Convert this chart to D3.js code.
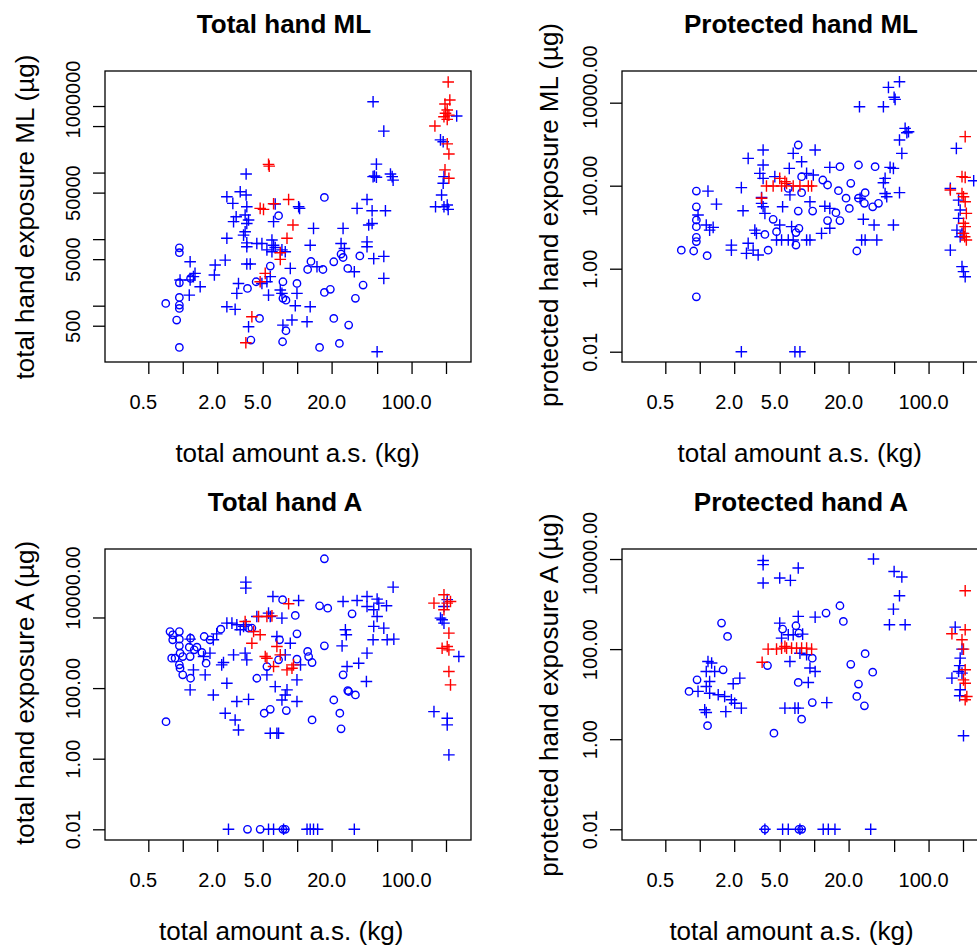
<!DOCTYPE html>
<html>
<head>
<meta charset="utf-8">
<script src="https://cdn.jsdelivr.net/npm/d3@7"></script>
<style>
  body { margin: 0; background: #fff; }
  svg { display: block; }
  text { font-family: "Liberation Sans", Arial, Helvetica, sans-serif; fill: #000; }
</style>
</head>
<body>
<svg id="chart" width="977" height="945"></svg>
<script>
// ---- axis ticks and labels ----
const xTickValues = [0.5, 1, 2, 5, 10, 20, 50, 100, 200];
const xTickLabels = {0.5: "0.5", 2: "2.0", 5: "5.0", 20: "20.0", 100: "100.0"};
const yTicksML = [500, 1000, 5000, 10000, 50000, 100000, 500000, 1000000];
const yLabelsML = {500: "500", 5000: "5000", 50000: "50000", 1000000: "1000000"};
const yTicksLog = [0.01, 1, 100, 10000];
const yLabelsLog = {0.01: "0.01", 1: "1.00", 100: "100.00", 10000: "10000.00"};

// ---- Total hand ML: [amount a.s. (kg), exposure (µg)] ----
const totalMLCircle = [[17.3,42400],[6.88,22500],[0.934,7400],[0.934,6250],[5.82,3940],[13.2,4630],[12.35,3500],[16.8,3500],[20.9,4570],[24.2,5970],[25.2,5300],[35.3,5600],[27.7,3630],[1.17,2570],[0.934,2210],[4.38,2290],[7.51,2290],[9.96,2160],[3.68,1820],[17.3,1580],[19.5,1760],[37.7,2040],[7.51,1290],[7.98,1210],[32.3,1290],[0.71,1080],[0.934,1330],[0.934,1020],[0.934,910],[0.885,608],[4.69,644],[20.9,644],[28.2,511],[7.98,420],[3.94,304],[7.46,287],[23.4,271],[15.7,236],[0.934,236]];
const totalMLPlus = [[46.1,1160000],[248,710000],[57.2,420000],[179,310000],[189,290000],[49.3,134000],[47.4,89000],[49.3,85000],[46.1,87000],[65.4,95000],[67.7,87000],[69.0,77000],[192,87000],[189,69000],[183,46000],[3.58,95000],[2.43,43400],[3.18,51500],[3.58,46000],[2.74,34400],[3.63,30700],[3.51,23000],[6.43,33700],[10.3,30700],[10.5,29000],[33.4,29000],[40.8,39500],[59.1,26700],[45.2,26700],[162,30700],[192,30700],[205,32500],[209,28000],[2.93,21700],[2.78,18300],[3.76,19400],[6.22,18300],[3.63,17200],[13.9,14500],[25.2,14500],[45.2,17200],[42.2,16300],[3.51,12900],[3.40,11500],[2.43,10300],[6.02,9700],[4.92,8600],[4.44,8600],[6.22,8100],[6.43,7500],[3.63,8800],[3.63,7700],[40.8,9100],[13.0,8100],[24.2,8600],[25.9,7250],[7.36,6900],[7.87,6460],[5.44,6900],[6.02,6460],[40.8,7700],[1.16,4570],[1.92,4080],[2.35,4840],[1.89,2890],[3.63,4220],[3.89,4220],[8.71,3630],[14.9,3850],[46.7,5100],[57.2,5500],[31.6,3240],[57.2,2570],[0.947,2430],[1.16,2430],[1.28,3060],[1.24,2730],[1.42,1930],[1.14,1440],[5.82,2730],[5.44,2290],[4.92,2160],[3.07,2160],[2.97,1530],[5.62,1440],[7.12,1720],[7.36,1530],[9.96,1530],[2.43,964],[2.87,880],[9.63,1000],[13.0,964],[3.76,482],[7.51,511],[9.01,608],[12.2,574],[50.0,203]];
const totalMLRed = [[209,2300000],[216,1230000],[196,1070000],[205,870000],[198,780000],[212,730000],[192,690000],[205,630000],[160,500000],[205,270000],[212,190000],[196,110000],[212,82000],[5.62,133000],[5.70,125000],[5.08,28000],[4.75,29000],[6.22,34000],[8.42,39500],[9.19,16300],[8.15,10300],[7.12,6250],[7.12,4960],[5.26,3060],[4.75,2290],[4.02,682],[3.56,277]];

// ---- Protected hand ML ----
const protMLCircle = [[7.26,955],[16.8,287],[24.4,315],[34.1,287],[7.77,165],[11.9,137],[13.1,104],[20.9,114],[5.94,86],[7.77,68],[16.3,76],[27.9,68],[19.0,50],[24.4,50],[27.5,37.5],[32.5,31],[36.5,37.5],[20.3,28.4],[7.26,24.5],[9.7,24.5],[15.5,22.4],[13.1,14.4],[16.8,14.4],[0.934,74],[0.934,31],[0.934,14.9],[0.934,10.3],[4.38,15.5],[4.69,7.8],[3.71,6.7],[6.93,7.4],[7.36,9.4],[6.93,3.7],[3.96,2.8],[0.934,5.7],[0.934,4.5],[0.69,2.8],[0.885,2.67],[1.16,2.06],[23.6,2.67],[0.934,0.21]];
const protMLPlus = [[55.7,32000],[44.6,23400],[50,13500],[51,12000],[40.3,8000],[24.9,8000],[62.4,2410],[66.8,2000],[64.6,1890],[55.7,1260],[58.4,601],[175,794],[3.58,724],[2.65,456],[6.56,601],[10.2,724],[7.77,379],[3.58,315],[6.06,262],[13.7,277],[3.35,198],[3.58,150],[4.53,165],[8.59,198],[9.83,181],[46.1,277],[49.3,262],[41.7,150],[40.3,118],[248,132],[1.18,74],[1.40,36],[2.31,90],[2.39,25],[3.47,52],[3.47,37.5],[3.58,31],[3.71,21.5],[5.3,31],[6.14,60],[9.19,41],[12.4,32],[13.7,28.4],[25.2,50],[41.7,65],[43.1,54],[55.7,68],[26.9,15.5],[33.4,11.3],[49.3,11.3],[0.966,19.6],[1.14,11.3],[1.22,8.5],[1.31,9.9],[3.03,8.5],[3.13,7.1],[2.65,4.1],[2.56,2.34],[2.93,2.8],[3.24,2.13],[1.89,3.7],[1.89,2.8],[5.0,11.3],[6.35,10.3],[4.69,4.9],[5.19,4.9],[5.94,4.9],[6.56,4.9],[8.59,4.9],[9.19,4.9],[11.6,7.1],[13.7,9.4],[26.0,4.9],[27.9,4.9],[35.3,4.9],[155,86],[155,2.8],[196,1.12],[202,0.85],[209,0.64],[2.31,0.01],[6.79,0.01],[7.51,0.01],[183,45],[189,26],[183,16.3],[177,8.5],[189,5.9],[196,7.1]];
const protMLRed = [[209,1520],[5.0,150],[5.55,125],[3.83,98],[4.38,98],[5.19,98],[5.74,114],[6.56,98],[7.51,98],[8.89,98],[9.5,98],[196,165],[209,159],[3.47,50],[155,79],[196,65],[202,54],[209,41],[214,21.5],[202,12.4],[209,10.3],[202,7.1],[214,4.9],[207,5.9]];

// ---- Total hand A ----
const totalACircle = [[17.3,460000],[7.46,32000],[15.7,21400],[18.5,18400],[30.2,12700],[9.63,11400],[3.76,5000],[4.02,5000],[2.15,4670],[0.774,4000],[0.934,4000],[0.817,3230],[0.817,2330],[0.934,2430],[1.17,2600],[1.54,2890],[1.73,2330],[0.934,1570],[1.14,1440],[1.33,1440],[1.26,1210],[1.47,1020],[0.947,975],[1.0,783],[1.16,783],[0.80,703],[0.857,703],[1.6,507],[0.934,455],[0.947,366],[1.0,237],[1.17,190],[9.96,3440],[7.01,2330],[17.3,1570],[12.35,1090],[12.6,783],[13.5,530],[9.96,658],[6.88,630],[5.44,408],[4.44,190],[25.2,237],[27.7,85],[28.2,80],[32.3,64],[20.9,46],[23.6,19.4],[24.2,7.0],[13.5,12.5],[8.04,23.1],[5.82,25.1],[5.15,19.4],[0.714,11.2],[3.68,0.01],[4.75,0.01],[7.51,0.01],[7.87,0.01]];
const totalAPlus = [[3.56,100000],[3.56,68000],[69.0,72400],[6.14,39400],[10.3,30300],[25.2,28400],[33.4,30300],[40.8,39400],[50,33000],[51.7,25500],[40.8,20500],[60.4,21400],[46.7,16500],[4.44,10700],[5.82,10700],[7.36,9600],[5.62,13300],[2.43,6900],[2.69,6900],[2.97,6200],[3.40,5600],[3.58,6200],[3.18,4470],[50,10700],[205,32000],[192,20500],[179,9600],[185,8600],[192,6900],[259,783],[157,21.6],[205,14.0],[205,9.1],[212,1.28],[1.16,2430],[1.98,3440],[1.85,2330],[1.73,975],[2.78,873],[3.51,975],[3.63,630],[2.27,530],[2.19,455],[1.52,783],[1.57,237],[1.24,328],[2.43,137],[1.16,89],[1.85,64],[2.97,41.5],[3.76,48],[2.35,19.4],[2.87,12.5],[3.07,6.5],[5.44,237],[6.43,110],[8.15,89],[7.87,64],[7.36,46],[9.96,41.5],[8.71,1870],[6.65,2890],[10.7,455],[7.87,873],[9.96,171],[24.7,1570],[26.9,3230],[26.4,4470],[46.7,5600],[57.2,5000],[61.2,2330],[70,2430],[46.1,2330],[40.8,975],[34.5,507],[27.3,408],[40.3,153],[5.82,5.25],[6.65,5.25],[6.88,5.25],[2.51,0.01],[5.62,0.01],[6.22,0.01],[7.61,0.01],[12.2,0.01],[13.0,0.01],[13.9,0.01],[15.1,0.01],[31.6,0.01]];
const totalARed = [[8.42,24400],[3.51,7700],[4.6,10700],[5.44,10700],[6.02,11100],[4.16,4000],[4.75,3230],[4.02,1870],[6.65,1510],[5.26,783],[5.44,703],[7.12,873],[6.22,408],[9.3,455],[9.01,366],[8.15,328],[192,44000],[219,28400],[157,25500],[205,25500],[192,16500],[212,3600],[205,1510],[185,1350],[212,1210],[212,294],[219,123]];

// ---- Protected hand A ----
const protACircle = [[16.8,918],[12.7,631],[18.0,412],[1.55,378],[1.75,191],[5.3,278],[6.93,330],[7.36,227],[9.63,63],[3.91,43],[1.6,34.7],[0.947,20.8],[0.806,11.5],[1.17,2.0],[4.45,1.36],[7.26,18.2],[9.63,6.5],[7.77,2.78],[20.9,46],[27.9,79],[32.5,30.8],[24.4,16.7],[23.6,8.9],[27.5,5.5],[3.71,0.01],[7.36,0.01],[7.77,0.01]];
const protAPlus = [[3.58,9300],[3.58,7500],[7.26,6300],[3.58,2930],[5.0,3780],[6.2,3360],[33.0,10000],[50,5300],[58.4,4000],[55.7,1530],[49.3,774],[45.5,347],[62.4,347],[5.0,378],[7.26,532],[10.2,514],[5.19,175],[5.94,208],[6.56,208],[7.93,215],[7.51,81],[6.14,53],[8.59,75],[9.19,38],[10.2,31.9],[8.89,18.2],[12.9,6.5],[5.55,4.9],[6.79,4.9],[7.26,4.9],[1.18,53],[1.27,49],[1.14,31.9],[1.35,31.9],[1.22,19.1],[1.14,14.8],[1.22,10.5],[0.966,11.5],[1.105,4.5],[1.14,3.9],[1.45,9.7],[1.65,8.9],[1.69,4.1],[1.89,7.5],[2.02,6.3],[2.24,22.7],[1.96,17.0],[2.31,4.9],[171,308],[196,100],[189,63],[187,43],[183,31.9],[160,22.7],[196,29.3],[189,12.5],[187,9.2],[202,1.19],[3.71,0.01],[5.3,0.01],[5.94,0.01],[7.51,0.01],[12.0,0.01],[13.3,0.01],[15.2,0.01],[31.2,0.01]];
const protARed = [[209,1980],[3.51,51],[3.96,100],[4.69,100],[5.19,105],[5.74,105],[6.35,105],[7.02,105],[7.77,105],[8.59,105],[9.5,100],[5.55,115],[160,219],[209,269],[196,161],[202,100],[209,34.7],[202,20.8],[209,17.5],[216,8.9],[209,7.5]];

// ---- layout ----
const BLUE = "#0000ff", RED = "#ff0000";
const xDomain = [0.2091, 330.8];
const panels = [
  { left: 105, top: 71, yDomain: [142.5, 3.36e6], yTicks: yTicksML, yLabels: yLabelsML, topLabelShift: -7,
    title: "Total hand ML", titleX: 284, xTitleX: 297.5,
    yTitle: "total hand exposure ML (\u00b5g)", yTitleX: 34, yTitleY: 217,
    circles: totalMLCircle, pluses: totalMLPlus, reds: totalMLRed },
  { left: 622, top: 71, yDomain: [0.00565, 5.8e4], yTicks: yTicksLog, yLabels: yLabelsLog, topLabelShift: -16,
    title: "Protected hand ML", titleX: 801, xTitleX: 799.7,
    yTitle: "protected hand exposure ML (\u00b5g)", yTitleX: 558, yTitleY: 215,
    circles: protMLCircle, pluses: protMLPlus, reds: protMLRed },
  { left: 105, top: 549, yDomain: [0.00498, 8.7e5], yTicks: yTicksLog, yLabels: yLabelsLog, topLabelShift: -30,
    title: "Total hand A", titleX: 285, xTitleX: 281.2,
    yTitle: "total hand exposure A (\u00b5g)", yTitleX: 34, yTitleY: 693,
    circles: totalACircle, pluses: totalAPlus, reds: totalARed },
  { left: 622, top: 549, yDomain: [0.00578, 1.67e4], yTicks: yTicksLog, yLabels: yLabelsLog, topLabelShift: -6,
    title: "Protected hand A", titleX: 801, xTitleX: 791.5,
    yTitle: "protected hand exposure A (\u00b5g)", yTitleX: 558, yTitleY: 695,
    circles: protACircle, pluses: protAPlus, reds: protARed }
];
const PW = 366, PH = 291;

const svg = d3.select("#chart");
svg.append("rect").attr("width", 977).attr("height", 945).attr("fill", "#fff");

const plusPath = s => `M${-s},0H${s}M0,${-s}V${s}`;

panels.forEach(p => {
  const x = d3.scaleLog().domain(xDomain).range([p.left, p.left + PW]);
  const y = d3.scaleLog().domain(p.yDomain).range([p.top + PH, p.top]);
  const g = svg.append("g");
  const topTick = d3.max(p.yTicks);

  // points
  const pts = g.append("g").attr("fill", "none").attr("stroke-width", 1.4);
  pts.selectAll("circle.o").data(p.circles).join("circle")
    .attr("cx", d => x(d[0])).attr("cy", d => y(d[1])).attr("r", 3.7)
    .attr("stroke", BLUE);
  pts.selectAll("path.p").data(p.pluses).join("path")
    .attr("transform", d => `translate(${x(d[0])},${y(d[1])})`)
    .attr("d", plusPath(5.8)).attr("stroke", BLUE);
  pts.selectAll("path.r").data(p.reds).join("path")
    .attr("transform", d => `translate(${x(d[0])},${y(d[1])})`)
    .attr("d", plusPath(5.8)).attr("stroke", RED);

  // frame
  g.append("rect").attr("x", p.left).attr("y", p.top).attr("width", PW).attr("height", PH)
    .attr("fill", "none").attr("stroke", "#000").attr("stroke-width", 1.3);

  // x axis
  const xa = g.append("g").attr("transform", `translate(0,${p.top + PH})`)
    .call(d3.axisBottom(x).tickValues(xTickValues).tickSize(12).tickSizeOuter(0)
      .tickFormat(v => xTickLabels[v] || ""));
  xa.select(".domain").remove();
  xa.selectAll("line").attr("stroke-width", 1.3);
  xa.selectAll("text").attr("font-size", 20).attr("y", null).attr("dy", null)
    .attr("transform", "translate(-5.5,47)").attr("font-family", null);

  // y axis
  const ya = g.append("g").attr("transform", `translate(${p.left},0)`)
    .call(d3.axisLeft(y).tickValues(p.yTicks).tickSize(12).tickSizeOuter(0)
      .tickFormat(v => p.yLabels[v] || ""));
  ya.select(".domain").remove();
  ya.selectAll("line").attr("stroke-width", 1.3);
  ya.selectAll("text").attr("font-size", 20).attr("x", null).attr("dy", null)
    .attr("text-anchor", "middle").attr("font-family", null)
    .attr("transform", v => `translate(-25,${v === topTick ? p.topLabelShift : 0}) rotate(-90)`);

  // titles
  g.append("text").attr("x", p.titleX).attr("y", p.top - 38)
    .attr("text-anchor", "middle").attr("font-size", 26).attr("font-weight", "bold")
    .text(p.title);
  g.append("text").attr("x", p.xTitleX).attr("y", p.top + PH + 100)
    .attr("text-anchor", "middle").attr("font-size", 26).text("total amount a.s. (kg)");
  g.append("text").attr("transform", `translate(${p.yTitleX},${p.yTitleY}) rotate(-90)`)
    .attr("text-anchor", "middle").attr("font-size", 26).text(p.yTitle);
});
</script>
</body>
</html>
